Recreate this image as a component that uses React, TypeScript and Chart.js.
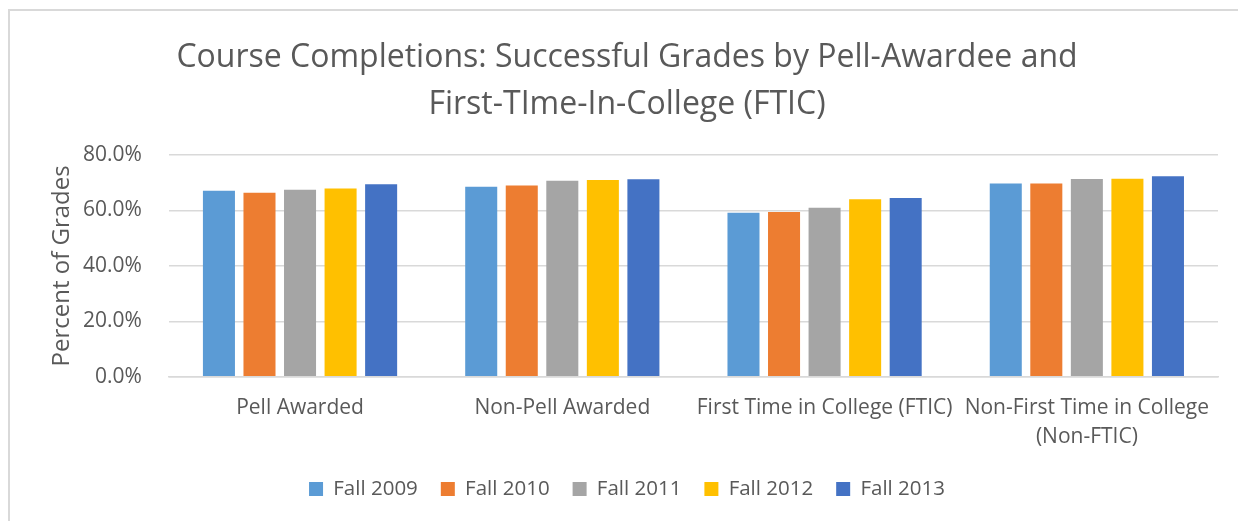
import React, { useEffect, useRef } from "react";
import { Chart, registerables } from "chart.js";

Chart.register(...registerables);

const categories: (string | string[])[] = [
  "Pell Awarded",
  "Non-Pell Awarded",
  "First Time in College (FTIC)",
  ["Non-First Time in College", "(Non-FTIC)"],
];
const seriesNames = ["Fall 2009", "Fall 2010", "Fall 2011", "Fall 2012", "Fall 2013"];
const fall2009 = [67.1, 68.6, 59.2, 69.7];
const fall2010 = [66.4, 69.0, 59.5, 69.7];
const fall2011 = [67.5, 70.7, 61.0, 71.4];
const fall2012 = [67.9, 71.0, 64.1, 71.5];
const fall2013 = [69.5, 71.3, 64.5, 72.4];
const seriesColors = ["#5b9bd5", "#ed7d31", "#a5a5a5", "#ffc000", "#4472c4"];
const titleLines = [
  "Course Completions: Successful Grades by Pell-Awardee and",
  "First-TIme-In-College (FTIC)",
];
const yAxisTitle = "Percent of Grades";

const FONT = "'Open Sans', sans-serif";
const TEXT = "#595959";

export default function App() {
  const ref = useRef<HTMLCanvasElement>(null);
  useEffect(() => {
    document.documentElement.style.overflow = "hidden";
    document.body.style.overflow = "hidden";
    const values = [fall2009, fall2010, fall2011, fall2012, fall2013];
    const chart = new Chart(ref.current!, {
      type: "bar",
      data: {
        labels: categories,
        datasets: seriesNames.map((name, i) => ({
          label: name,
          data: values[i],
          backgroundColor: seriesColors[i],
          borderWidth: 0,
          categoryPercentage: 0.773,
          barPercentage: 0.79,
        })),
      },
      options: {
        animation: false,
        responsive: false,
        maintainAspectRatio: false,
        layout: { padding: { left: 26, right: 20, top: 10, bottom: 11.65 } },
        plugins: {
          tooltip: { enabled: false },
          title: {
            display: true,
            text: titleLines,
            color: TEXT,
            font: { family: FONT, size: 32, weight: "normal", lineHeight: 1.47 },
            padding: { top: 13, bottom: 27 },
          },
          legend: {
            position: "bottom",
            labels: {
              color: TEXT,
              font: { family: FONT, size: 20.5 },
              boxWidth: 14,
              boxHeight: 14,
              padding: 23,
            },
          },
        },
        scales: {
          x: {
            grid: { display: false, drawTicks: false },
            border: { display: true, color: "#d9d9d9", width: 1.5 },
            afterFit: (scale: any) => {
              scale.height -= 11.85;
            },
            ticks: {
              color: TEXT,
              font: { family: FONT, size: 21, lineHeight: 1.38 },
              maxRotation: 0,
              autoSkip: false,
              padding: 16.5,
            },
          },
          y: {
            min: 0,
            max: 80,
            border: { display: false },
            grid: { color: "#d9d9d9", lineWidth: 1.5, drawTicks: false },
            title: {
              display: true,
              text: yAxisTitle,
              color: TEXT,
              font: { family: FONT, size: 24, lineHeight: 1 },
              padding: { top: 14, bottom: -18 },
            },
            ticks: {
              stepSize: 20,
              color: TEXT,
              font: { family: FONT, size: 21 },
              padding: 27,
              callback: (v: any) => Number(v).toFixed(1) + "%",
            },
          },
        },
      },
    });
    return () => chart.destroy();
  }, []);
  return (
    <div
      style={{
        position: "fixed",
        left: 8,
        top: 9,
        width: 1228,
        height: 510,
        borderLeft: "2px solid #d9d9d9",
        borderTop: "2px solid #d9d9d9",
        background: "#fff",
      }}
    >
      <canvas ref={ref} width={1228} height={510} style={{ display: "block" }} />
    </div>
  );
}
